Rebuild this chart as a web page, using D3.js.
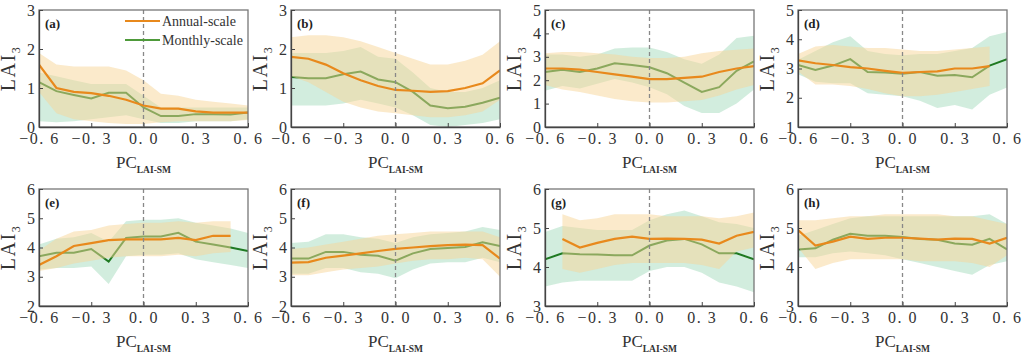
<!DOCTYPE html>
<html>

<head>
  <title>LAI3 vs PC</title>
  <script src="https://cdn.jsdelivr.net/npm/d3@7"></script>
  <style>
    body { margin: 0; background: #fff; }
    text { font-family: "Liberation Serif", "Times New Roman", serif; }
  </style>
</head>

<body>
  <svg width="1024" height="354" id="mainsvg"></svg>
  <script>
    // ---- data ----
    const xs = [-0.6, -0.5, -0.4, -0.3, -0.2, -0.1, 0, 0.1, 0.2, 0.3, 0.4, 0.5, 0.6];
    const xTicks = [-0.6, -0.3, 0, 0.3, 0.6];
    const panelLabels = ['(a)', '(b)', '(c)', '(d)', '(e)', '(f)', '(g)', '(h)'];
    const yDomains = [[0, 3], [0, 3], [0, 5], [1, 5], [2, 6], [2, 6], [3, 6], [3, 6]];
    const seriesNames = ['Annual-scale', 'Monthly-scale'];

    const annualMean = [
      [1.6, 1.0, 0.9, 0.87, 0.8, 0.7, 0.55, 0.47, 0.47, 0.4, 0.37, 0.37, 0.37],
      [1.8, 1.75, 1.6, 1.38, 1.2, 1.05, 0.95, 0.93, 0.9, 0.92, 1.0, 1.12, 1.45],
      [2.5, 2.5, 2.45, 2.35, 2.25, 2.15, 2.05, 2.05, 2.1, 2.15, 2.35, 2.5, 2.6],
      [3.28, 3.18, 3.12, 3.05, 3.0, 2.92, 2.85, 2.88, 2.9, 3.0, 3.0, 3.08, null],
      [3.4, 3.7, 4.05, 4.15, 4.25, 4.28, 4.28, 4.28, 4.33, 4.25, 4.4, 4.4, null],
      [3.48, 3.5, 3.65, 3.72, 3.8, 3.88, 3.95, 4.0, 4.05, 4.08, 4.1, 4.08, 3.62],
      [null, 4.72, 4.5, 4.62, 4.72, 4.78, 4.72, 4.73, 4.72, 4.7, 4.6, 4.8, 4.9],
      [4.95, 4.55, 4.65, 4.78, 4.72, 4.75, 4.75, 4.73, 4.7, 4.73, 4.72, 4.6, 4.75]
    ];
    const annualLow = [
      [0.9, 0.35, 0.2, 0.15, 0.1, 0.08, 0.08, 0.12, 0.15, 0.15, 0.15, 0.15, 0.18],
      [1.3, 1.15, 0.9, 0.65, 0.5, 0.4, 0.35, 0.3, 0.25, 0.25, 0.3, 0.4, 0.7],
      [1.8, 1.6, 1.5, 1.35, 1.2, 1.1, 1.05, 1.05, 1.1, 1.15, 1.35, 1.6, 1.8],
      [2.9, 2.45, 2.45, 2.4, 2.3, 2.15, 2.05, 2.05, 2.1, 2.2, 2.3, 2.4, null],
      [3.2, 3.3, 3.45, 3.55, 3.65, 3.7, 3.7, 3.7, 3.75, 3.7, 3.8, 3.85, null],
      [3.05, 3.05, 3.15, 3.25, 3.3, 3.35, 3.45, 3.55, 3.6, 3.6, 3.65, 3.6, 3.0],
      [null, 3.95, 3.85, 3.95, 4.05, 4.1, 4.1, 4.1, 4.1, 4.05, 3.95, 4.4, 4.5],
      [4.5, 3.95, 4.1, 4.2, 4.2, 4.2, 4.2, 4.15, 4.15, 4.15, 4.1, 4.0, 4.3]
    ];
    const annualHigh = [
      [1.9, 1.6, 1.55, 1.55, 1.55, 1.45, 1.2, 0.85, 0.8, 0.7, 0.65, 0.6, 0.55],
      [2.3, 2.35, 2.35, 2.3, 2.2, 2.05, 1.9, 1.75, 1.6, 1.6, 1.7, 1.85, 2.2],
      [3.15, 3.2, 3.2, 3.15, 3.1, 3.0, 2.95, 2.95, 3.0, 3.15, 3.25, 3.3, 3.35],
      [3.5, 3.75, 3.8, 3.75, 3.7, 3.7, 3.65, 3.6, 3.6, 3.65, 3.7, 3.75, null],
      [3.9, 4.3, 4.55, 4.6, 4.75, 4.8, 4.85, 4.85, 4.9, 4.85, 4.9, 4.9, null],
      [3.95, 4.0, 4.1, 4.2, 4.3, 4.4, 4.45, 4.5, 4.55, 4.55, 4.55, 4.55, 4.35],
      [null, 5.35, 5.2, 5.25, 5.35, 5.35, 5.35, 5.3, 5.3, 5.3, 5.25, 5.3, 5.4],
      [5.2, 5.2, 5.25, 5.3, 5.3, 5.35, 5.35, 5.35, 5.35, 5.3, 5.3, 5.2, 5.1]
    ];
    const monthlyMean = [
      [1.15, 0.92, 0.82, 0.73, 0.88, 0.88, 0.5, 0.28, 0.28, 0.33, 0.33, 0.32, 0.37],
      [1.28, 1.25, 1.25, 1.35, 1.42, 1.22, 1.15, 0.9, 0.55, 0.48, 0.52, 0.62, 0.75],
      [2.35, 2.45, 2.35, 2.5, 2.72, 2.65, 2.55, 2.3, 1.9, 1.5, 1.7, 2.4, 2.8],
      [3.12, 2.95, 3.1, 3.32, 2.88, 2.86, 2.82, 2.88, 2.75, 2.78, 2.7, 3.1, 3.32],
      [3.7, 3.82, 3.82, 3.95, 3.52, 4.33, 4.38, 4.38, 4.5, 4.2, 4.1, 4.0, 3.88],
      [3.62, 3.62, 3.85, 3.85, 3.75, 3.72, 3.55, 3.8, 3.95, 3.98, 4.02, 4.18, 4.05],
      [4.2, 4.35, 4.33, 4.32, 4.3, 4.3, 4.55, 4.68, 4.72, 4.58, 4.35, 4.35, 4.2],
      [4.45, 4.48, 4.7, 4.85, 4.8, 4.8, 4.77, 4.72, 4.7, 4.6, 4.57, 4.72, 4.45]
    ];
    const monthlyLow = [
      [0.15, 0.12, 0.15, 0.2, 0.25, 0.3, 0.2, 0.1, 0.1, 0.15, 0.15, 0.15, 0.2],
      [0.55, 0.55, 0.55, 0.6, 0.7, 0.6, 0.5, 0.3, 0.05, 0.0, 0.05, 0.1, 0.2],
      [1.55, 1.75, 1.65, 1.85, 2.05, 1.9, 1.7, 1.4, 0.9, 0.6, 0.6, 1.0, 1.6],
      [2.8, 2.55, 2.5, 2.5, 2.15, 2.1, 2.05, 1.9, 1.65, 1.75, 1.6, 2.1, 2.35],
      [3.25, 3.3, 3.3, 3.35, 2.75, 3.7, 3.75, 3.75, 3.8, 3.6, 3.5, 3.4, 3.3],
      [3.1, 3.1, 3.3, 3.3, 3.15, 3.1, 2.95, 3.25, 3.45, 3.5, 3.5, 3.65, 3.5],
      [3.5, 3.6, 3.65, 3.65, 3.65, 3.65, 3.9, 4.0, 4.0, 3.85, 3.6, 3.5, 3.35],
      [4.25, 4.25, 4.35, 4.4, 4.35, 4.3, 4.2, 4.1, 4.0, 3.9, 3.8, 4.05, 4.15]
    ];
    const monthlyHigh = [
      [1.4, 1.3, 1.2, 1.1, 1.1, 1.1, 0.8, 0.5, 0.5, 0.5, 0.5, 0.5, 0.5],
      [1.9, 1.9, 1.9, 1.95, 2.05, 1.8, 1.75, 1.4, 1.0, 0.9, 0.9, 1.0, 1.2],
      [3.1, 3.1, 3.0, 3.1, 3.35, 3.4, 3.4, 3.2, 2.9, 2.7, 3.1, 3.8, 3.9],
      [3.3, 3.6, 3.9, 4.1, 3.6, 3.5, 3.45, 3.5, 3.5, 3.6, 3.7, 4.1, 4.25],
      [4.1, 4.3, 4.35, 4.5, 4.2, 4.9, 4.95, 4.95, 5.0, 4.85, 4.75, 4.65, 4.5],
      [4.15, 4.2, 4.45, 4.45, 4.35, 4.3, 4.15, 4.35, 4.45, 4.5, 4.55, 4.7, 4.6],
      [4.9, 5.05, 5.0, 4.95, 4.95, 4.95, 5.2, 5.35, 5.45, 5.3, 5.15, 5.1, 5.0],
      [4.8, 4.95, 5.1, 5.25, 5.3, 5.3, 5.3, 5.3, 5.3, 5.3, 5.3, 5.35, 5.1]
    ];

    // ---- layout ----
    const svg = d3.select('#mainsvg');
    const colLeft = [39, 291, 545, 798];
    const rowTop = [10, 189];
    const pw = 209, ph = 117;

    const annualColor = '#e8891c';
    const monthlyColor = '#1f7a22';
    const annualBand = '#f7d597';
    const monthlyBand = '#bfe6d0';

    const xFmt = d => (d < 0 ? '\u2212' : '') + Math.abs(d).toFixed(1).replace('.', '. ');

    panelLabels.forEach((label, i) => {
      const left = colLeft[i % 4], top = rowTop[Math.floor(i / 4)];
      const g = svg.append('g').attr('transform', `translate(${left},${top})`);

      const x = d3.scaleLinear().domain([-0.6, 0.6]).range([0, pw]);
      const y = d3.scaleLinear().domain(yDomains[i]).range([ph, 0]);

      const pts = (mean, lo, hi) => xs.map((v, k) => ({ x: v, m: mean[k], lo: lo[k], hi: hi[k] }));
      const ann = pts(annualMean[i], annualLow[i], annualHigh[i]);
      const mon = pts(monthlyMean[i], monthlyLow[i], monthlyHigh[i]);

      const area = d3.area()
        .defined(d => d.lo != null && d.hi != null)
        .x(d => x(d.x)).y0(d => y(d.lo)).y1(d => y(d.hi));
      const line = d3.line()
        .defined(d => d.m != null)
        .x(d => x(d.x)).y(d => y(d.m));

      const clipId = 'clip' + i;
      g.append('clipPath').attr('id', clipId)
        .append('rect').attr('width', pw).attr('height', ph);
      const plot = g.append('g').attr('clip-path', `url(#${clipId})`);

      plot.append('path').datum(mon).attr('d', area)
        .attr('fill', monthlyBand).attr('fill-opacity', 0.7);
      plot.append('path').datum(mon).attr('d', line)
        .attr('fill', 'none').attr('stroke', monthlyColor).attr('stroke-width', 2);
      plot.append('path').datum(ann).attr('d', area)
        .attr('fill', annualBand).attr('fill-opacity', 0.5);
      plot.append('path').datum(ann).attr('d', line)
        .attr('fill', 'none').attr('stroke', annualColor).attr('stroke-width', 2.2);

      // dashed zero line
      g.append('line')
        .attr('x1', x(0)).attr('x2', x(0)).attr('y1', 0).attr('y2', ph)
        .attr('stroke', '#888').attr('stroke-width', 1.3).attr('stroke-dasharray', '4,3');

      // frame
      g.append('rect').attr('width', pw).attr('height', ph)
        .attr('fill', 'none').attr('stroke', '#777').attr('stroke-width', 1.3);

      const xAxis = g.append('g').attr('transform', `translate(0,${ph})`)
        .call(d3.axisBottom(x).tickValues(xTicks).tickFormat(xFmt).tickSizeInner(-4).tickSizeOuter(0).tickPadding(6));
      const yAxis = g.append('g')
        .call(d3.axisLeft(y).tickValues(d3.range(yDomains[i][0], yDomains[i][1] + 1)).tickFormat(d3.format('d')).tickSizeInner(-4).tickSizeOuter(0).tickPadding(4));
      [xAxis, yAxis].forEach(a => {
        a.select('.domain').attr('stroke', '#444').attr('stroke-width', 1.3);
        a.selectAll('.tick line').attr('stroke', '#444');
        a.selectAll('.tick text').attr('fill', '#333').attr('font-size', 16)
          .attr('font-family', '"Liberation Serif", serif');
      });
      xAxis.selectAll('.tick text').attr('letter-spacing', 1.5);

      // panel label
      g.append('text').attr('x', 6).attr('y', 18)
        .attr('font-size', 13).attr('font-weight', 'bold').attr('fill', '#222')
        .text(label);

      // y label
      const yl = g.append('text')
        .attr('transform', `translate(-24,${ph / 2}) rotate(-90)`)
        .attr('text-anchor', 'middle').attr('font-size', 20).attr('fill', '#333')
        .attr('letter-spacing', 1.5);
      yl.append('tspan').text('LAI');
      yl.append('tspan').attr('font-size', 12).attr('dy', 5).text('3');

      // x label
      const xl = g.append('text')
        .attr('x', pw / 2).attr('y', ph + 41)
        .attr('text-anchor', 'middle').attr('font-size', 17).attr('fill', '#333');
      xl.append('tspan').text('PC');
      xl.append('tspan').attr('font-size', 9.5).attr('font-weight', 'bold').attr('dy', 5).text('LAI-SM');

      // legend (first panel only)
      if (i === 0) {
        const lg = g.append('g').attr('transform', 'translate(86,11)');
        [annualColor, '#4e9a3a'].forEach((c, k) => {
          lg.append('line').attr('x1', 0).attr('x2', 35).attr('y1', k * 19).attr('y2', k * 19)
            .attr('stroke', c).attr('stroke-width', 2);
          lg.append('text').attr('x', 37).attr('y', k * 19 + 5)
            .attr('font-size', 14).attr('fill', '#333').text(seriesNames[k]);
        });
      }
    });
  </script>
</body>

</html>
